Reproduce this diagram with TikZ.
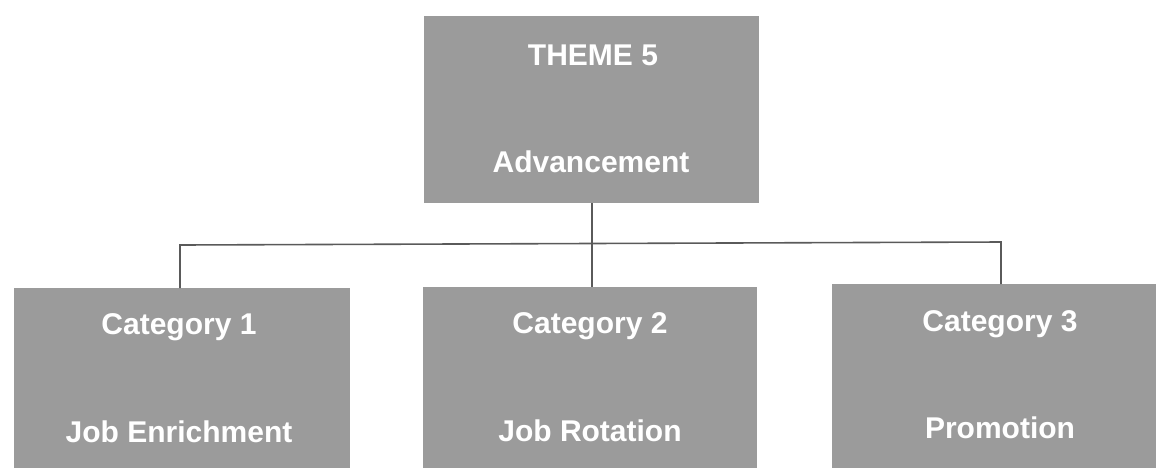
\documentclass[tikz,border=0pt]{standalone}
\usepackage{fontspec}
\setmainfont{Liberation Sans}
\begin{document}
\begin{tikzpicture}[x=1pt,y=-1pt,
  box/.style={fill=boxgray, draw=none, inner sep=0pt, anchor=north west},
  lbl/.style={text=white, font=\fontsize{30}{34}\selectfont\bfseries, inner sep=0pt, anchor=center},
  link/.style={draw=linegray, line width=1.6pt}]
\definecolor{boxgray}{HTML}{9B9B9B}
\definecolor{linegray}{HTML}{5A5A5A}
\useasboundingbox (0,0) rectangle (1156,467);
% boxes
\node[box, minimum width=335pt, minimum height=187pt] (top) at (424,16) {};
\node[box, minimum width=336pt, minimum height=187pt] (cat1) at (14,288) {};
\node[box, minimum width=334pt, minimum height=188pt] (cat2) at (423,287) {};
\node[box, minimum width=336pt, minimum height=191pt] (cat3) at (832,284) {};
% bus points of the tree connector
\coordinate (busL) at (180,245);
\coordinate (busM) at (592,243);
\coordinate (busR) at (1001,242);
% texts
\node[lbl] (t1) at (593,55) {THEME 5};
\node[lbl] (t2) at (591,162) {Advancement};
\node[lbl] (a1) at (179,327) {Category 1};
\node[lbl] (a2) at (179,432) {Job Enrichment};
\node[lbl] (b1) at (590,326) {Category 2};
\node[lbl] (b2) at (590,431) {Job Rotation};
\node[lbl] (d1) at (1000,324) {Category 3};
\node[lbl] (d2) at (1000,428) {Promotion};
% connectors
\draw[link] (top.south -| busM) -- (busM);
\draw[link] (cat1.north -| busL) -- (busL) -- (busR) -- (cat3.north -| busR);
\draw[link] (busM) -- (cat2.north -| busM);
\end{tikzpicture}
\end{document}
